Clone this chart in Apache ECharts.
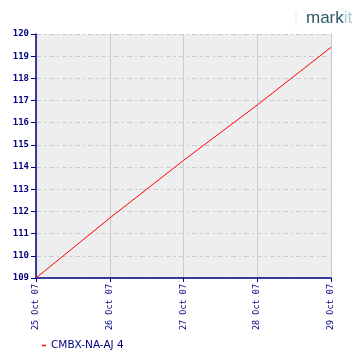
<!DOCTYPE html>
<html><head><meta charset="utf-8">
<script src="https://cdn.jsdelivr.net/npm/echarts@6/dist/echarts.min.js"></script>
<style>html,body{margin:0;padding:0;background:#fff}#c{width:360px;height:360px}</style>
</head><body><div id="c"></div>
<script>
var categories = ['25 Oct 07', '26 Oct 07', '27 Oct 07', '28 Oct 07', '29 Oct 07'];
var seriesName = 'CMBX-NA-AJ 4';
var values = [109.0, 111.7, 114.3, 116.8, 119.4];
var yMin = 109, yMax = 120, yStep = 1;

var navy = '#000080';
var chart = echarts.init(document.getElementById('c'), null, {renderer: 'canvas'});
chart.setOption({
  animation: false,
  backgroundColor: '#ffffff',
  grid: {left: 36, top: 34, right: 29, bottom: 82, show: true, backgroundColor: '#eeeeee', borderWidth: 0},
  xAxis: {
    type: 'category', data: categories, boundaryGap: false,
    axisLine: {lineStyle: {color: navy, width: 1.5}},
    axisTick: {show: true, length: 4, lineStyle: {color: navy}},
    axisLabel: {rotate: 90, color: navy, fontFamily: 'DejaVu Sans Mono', fontSize: 8.5, margin: 6},
    splitLine: {show: true, lineStyle: {color: '#cccccc', width: 1}}
  },
  yAxis: {
    type: 'value', min: yMin, max: yMax, interval: yStep,
    axisLine: {show: true, lineStyle: {color: navy, width: 1.5}},
    axisTick: {show: true, length: 5, lineStyle: {color: navy}},
    axisLabel: {color: navy, fontFamily: 'DejaVu Sans Mono', fontSize: 9, fontWeight: 'bold', margin: 7},
    splitLine: {show: true, lineStyle: {color: '#cccccc', width: 1, type: [5, 3, 2, 3]}}
  },
  legend: {
    show: true, left: 37, top: 335, itemWidth: 4, itemHeight: 1.5, itemGap: 4,
    icon: 'rect',
    textStyle: {color: navy, fontFamily: 'DejaVu Sans', fontSize: 10.5},
    data: [seriesName]
  },
  graphic: [
    {type: 'rect', left: 295, top: 13, shape: {width: 2, height: 13}, style: {fill: '#eef3f4'}},
    {type: 'text', left: 306, top: 10, style: {
      text: '{a|mark}{b|it}',
      rich: {
        a: {fill: '#2e5a66', fontSize: 17, fontFamily: 'Liberation Sans'},
        b: {fill: '#a6cdd1', fontSize: 17, fontFamily: 'Liberation Sans'}
      }
    }}
  ],
  series: [{
    name: seriesName, type: 'line', data: values,
    showSymbol: false, symbol: 'none',
    lineStyle: {color: '#ff0000', width: 1},
    itemStyle: {color: '#ff0000'}
  }]
});
</script></body></html>
